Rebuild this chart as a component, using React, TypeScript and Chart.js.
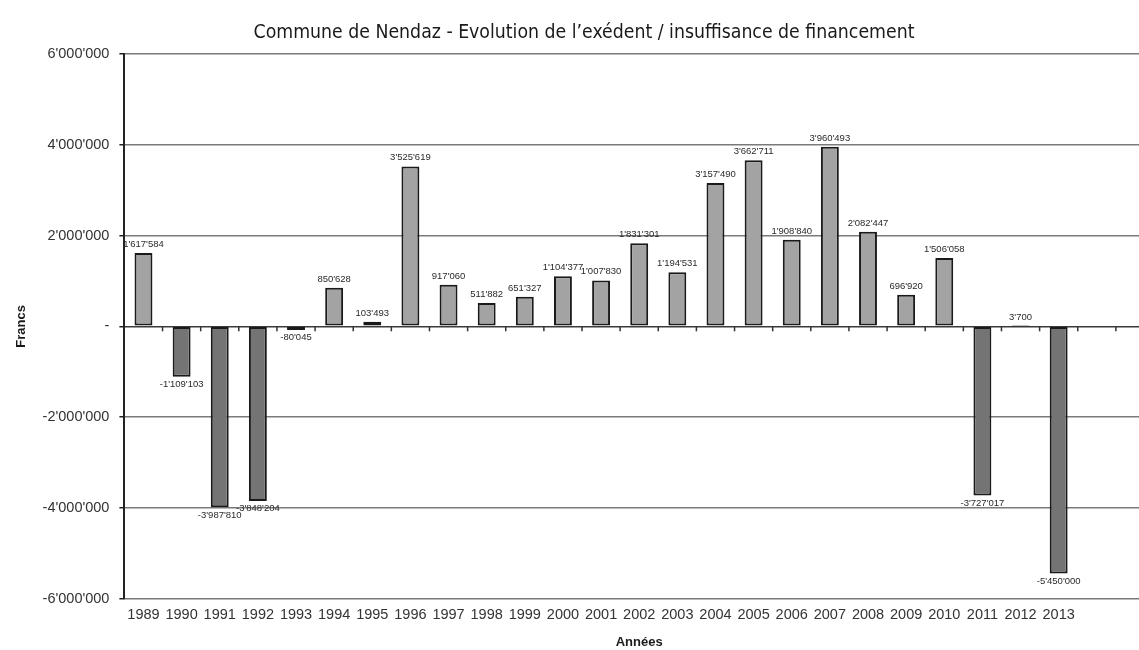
import React, { useEffect, useRef } from "react";
import { Chart, registerables } from "chart.js";

Chart.register(...registerables);

const years: string[] = [
  "1989", "1990", "1991", "1992", "1993", "1994", "1995", "1996", "1997", "1998",
  "1999", "2000", "2001", "2002", "2003", "2004", "2005", "2006", "2007", "2008",
  "2009", "2010", "2011", "2012", "2013", "", "",
];

const values: (number | null)[] = [
  1617584, -1109103, -3987810, -3848204, -80045, 850628, 103493, 3525619, 917060, 511882,
  651327, 1104377, 1007830, 1831301, 1194531, 3157490, 3662711, 1908840, 3960493, 2082447,
  696920, 1506058, -3727017, 3700, -5450000, null, null,
];

const yTickValues: number[] = [-6000000, -4000000, -2000000, 0, 2000000, 4000000, 6000000];

const titleText = "Commune de Nendaz - Evolution de l\u2019exédent / insuffisance de financement";
const yTitle = "Francs";
const xTitle = "Années";

const POS_COLOR = "#a3a3a3";
const NEG_COLOR = "#747474";

function fmt(v: number): string {
  const neg = v < 0;
  const s = Math.abs(Math.round(v)).toString();
  const parts: string[] = [];
  for (let i = s.length; i > 0; i -= 3) {
    parts.unshift(s.slice(Math.max(0, i - 3), i));
  }
  return (neg ? "-" : "") + parts.join("'");
}

const labelPlugin = {
  id: "barLabels",
  afterDatasetsDraw(chart: any) {
    const ctx = chart.ctx;
    const meta = chart.getDatasetMeta(0);
    ctx.save();
    ctx.font = "9.5px 'Liberation Sans', Arial, sans-serif";
    ctx.fillStyle = "#2a2a2a";
    ctx.textAlign = "center";
    meta.data.forEach((el: any, i: number) => {
      const v = values[i];
      if (v === null || v === undefined) return;
      if (v >= 0) {
        ctx.textBaseline = "bottom";
        ctx.fillText(fmt(v), el.x, el.y - 4);
      } else {
        ctx.textBaseline = "top";
        ctx.fillText(fmt(v), el.x, el.y + 3);
      }
    });
    ctx.restore();
  },
};

const zeroTicksPlugin = {
  id: "zeroTicks",
  afterDatasetsDraw(chart: any) {
    const ctx = chart.ctx;
    const xs = chart.scales.x;
    const ys = chart.scales.y;
    const y0 = ys.getPixelForValue(0);
    ctx.save();
    ctx.strokeStyle = "#333";
    ctx.lineWidth = 1.5;
    const n = years.length;
    for (let i = 0; i < n; i++) {
      const a = xs.getPixelForValue(i);
      const b = xs.getPixelForValue(i + 1);
      const x = (a + b) / 2;
      ctx.beginPath();
      ctx.moveTo(x, y0);
      ctx.lineTo(x, y0 + 5);
      ctx.stroke();
    }
    ctx.restore();
  },
};

export default function App() {
  const ref = useRef<HTMLCanvasElement | null>(null);

  useEffect(() => {
    if (!ref.current) return;
    const chart = new Chart(ref.current, {
      type: "bar",
      data: {
        labels: years,
        datasets: [
          {
            data: values,
            backgroundColor: (c: any) => ((c.raw ?? 0) < 0 ? NEG_COLOR : POS_COLOR),
            borderColor: "#1a1a1a",
            borderWidth: 2,
            borderSkipped: false,
            barPercentage: 0.47,
            categoryPercentage: 1,
          },
        ],
      },
      options: {
        animation: false,
        responsive: true,
        maintainAspectRatio: false,
        layout: { padding: { left: 14, right: 0, top: 10, bottom: 0 } },
        plugins: {
          legend: { display: false },
          tooltip: { enabled: false },
          title: {
            display: true,
            text: titleText,
            color: "#1a1a1a",
            font: { family: "'Liberation Sans Narrow', 'DejaVu Sans Condensed', Arial, sans-serif", size: 19.3, weight: "normal" },
            padding: { top: 11, bottom: 10 },
          },
        },
        scales: {
          x: {
            grid: { display: false },
            border: { display: false },
            ticks: {
              color: "#333",
              font: { family: "'Liberation Sans', Arial, sans-serif", size: 14.5 },
              padding: 0,
              maxRotation: 0,
              autoSkip: false,
            },
            title: {
              display: true,
              text: xTitle,
              color: "#1a1a1a",
              font: { family: "'Liberation Sans', Arial, sans-serif", size: 13, weight: "bold" },
              padding: { top: 10.5, bottom: 0 },
            },
          },
          y: {
            min: -6000000,
            max: 6000000,
            afterBuildTicks: (scale: any) => {
              scale.ticks = yTickValues.map((v) => ({ value: v }));
            },
            grid: {
              color: (c: any) => (c.tick && c.tick.value === 0 ? "#3a3a3a" : "#7a7a7a"),
              lineWidth: 1.5,
              drawTicks: true,
              tickLength: 5,
              tickColor: "#222",
            },
            border: { display: true, color: "#222", width: 2 },
            ticks: {
              color: "#333",
              font: { family: "'Liberation Sans', Arial, sans-serif", size: 14.5 },
              padding: 10,
              callback: (v: any) => (Number(v) === 0 ? "-" : fmt(Number(v))),
            },
            title: {
              display: true,
              text: yTitle,
              color: "#1a1a1a",
              font: { family: "'Liberation Sans', Arial, sans-serif", size: 13, weight: "bold" },
              padding: { top: 0, bottom: 3 },
            },
          },
        },
      },
      plugins: [labelPlugin, zeroTicksPlugin],
    });
    return () => chart.destroy();
  }, []);

  return (
    <div style={{ position: "fixed", left: 0, top: 0, width: 1139, height: 650, overflow: "hidden", background: "#fff" }}>
      <div style={{ position: "absolute", left: 0, top: 0, width: 1154, height: 650 }}>
        <canvas ref={ref} />
      </div>
    </div>
  );
}
